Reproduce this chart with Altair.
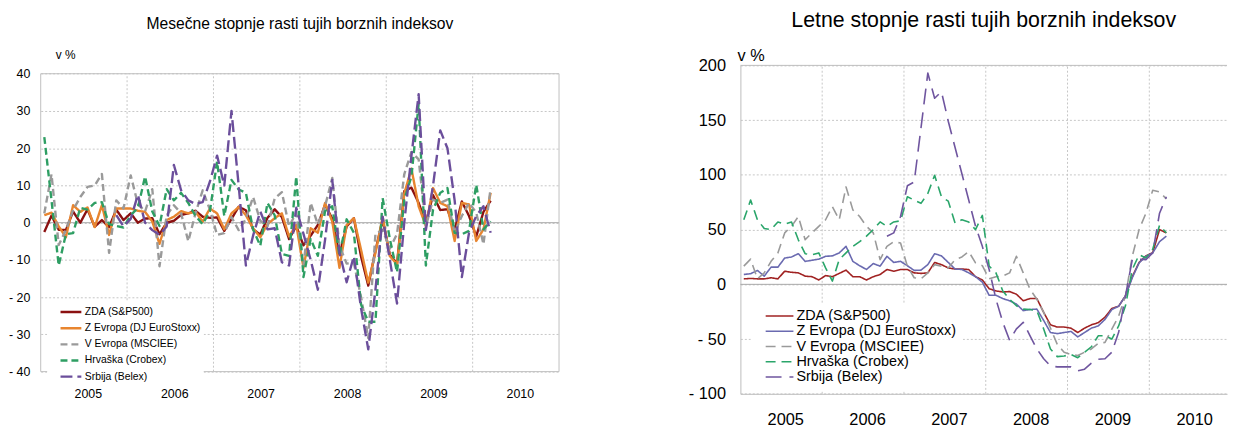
import altair as alt
import pandas as pd

SERIES = ["ZDA (S&P500)", "Z Evropa (DJ EuroStoxx)", "V Evropa (MSCIEE)",
          "Hrvaška (Crobex)", "Srbija (Belex)"]

# monthly observations Jan 2005 .. Mar 2010
MONTHS = [f"{y}-{m:02d}" for y in range(2005, 2011) for m in range(1, 13)][:63]

# ---- monthly growth rates (left panel), in %
ZDA_M = [-2.5, 1.9, -1.9, -2.0, 3.0, 0.0, 3.6, -1.1, 0.7, -1.2, 3.5, 0.7,
         2.5, 0.0, 1.1, 1.2, -3.1, 0.0, 0.5, 2.1, 2.5, 3.2, 1.6, 1.3,
         1.4, -2.2, 1.0, 4.3, 3.3, -1.8, -3.2, 1.3, 3.6, 1.5, -4.4, -0.9,
         -6.1, -3.5, -0.6, 4.8, 1.1, -8.6, -1.0, 1.2, -9.1, -16.9, -7.5, 0.8,
         -8.6, -11.0, 8.5, 9.4, 5.3, 0.0, 7.4, 3.4, 3.6, -2.0, 5.7, 1.8,
         -3.7, 2.9, 5.9]
EUR_M = [2.0, 2.7, -1.0, -3.9, 4.7, 2.9, 4.1, -1.2, 4.7, -3.3, 3.8, 3.8,
         3.8, 3.2, 2.9, 0.3, -5.7, 0.7, 1.6, 3.1, 2.5, 2.9, 0.3, 3.8,
         2.5, -1.8, 2.5, 4.2, 2.0, -1.5, -3.9, -0.4, 1.2, 2.5, -3.7, -0.6,
         -12.1, -1.5, -2.7, 5.3, 0.3, -12.1, -0.6, 1.2, -7.3, -16.1, -8.1, 1.5,
         -9.0, -11.2, 7.8, 14.5, 4.4, -0.9, 9.3, 5.3, 4.4, -4.9, 5.3, 4.9,
         -4.9, -1.8, 8.0]
VEU_M = [2.5, 13.0, -6.0, -2.0, 3.4, 6.9, 9.6, 10.0, 13.1, -8.1, 6.0, 3.8,
         12.7, 5.0, 3.0, 9.0, -11.7, 2.0, 4.7, 2.5, -5.0, 2.5, 8.7, 3.5,
         -3.3, -2.8, 1.5, -2.0, 1.0, 6.9, 0.5, -1.0, 6.5, 8.2, -1.0, 2.7,
         -11.5, 5.3, -0.5, 4.4, 12.0, -6.2, -11.0, -10.8, -20.0, -31.0, -3.0, -2.0,
         -7.0, -3.0, 13.0, 19.0, 17.0, -1.0, 6.2, 5.3, 6.2, -2.7, 1.8, 5.3,
         2.7, -5.8, 9.3]
HR_M = [23.0, 6.0, -11.5, -3.1, -2.8, 4.0, 3.5, 5.3, 5.5, -0.4, -0.9, -1.3,
        2.0, 4.0, 12.4, 3.0, -0.9, 9.0, 6.0, 8.0, 5.3, 1.8, -0.4, 3.0,
        16.4, 1.8, 11.5, 8.9, 8.0, -1.8, -6.2, 5.3, 2.0, -8.4, -8.9, 12.4,
        -14.6, -4.4, -8.9, 3.1, 4.4, -8.9, 0.9, -2.7, -22.0, -26.6, -26.6, 6.6,
        -4.4, -13.3, 6.2, 12.4, 32.0, -11.5, 3.5, 8.0, 9.3, -2.7, -3.1, -2.2,
        10.2, -1.8, 0.4]
SR_M = [None] * 10 + [2.0, -1.0,
        1.0, 7.5, 0.0, -2.0, -3.3, -1.0, 15.5, 8.7, 6.0, 5.0, 5.5, 11.0,
        18.0, 10.0, 30.0, 10.0, -11.5, -3.5, 3.0, -1.8, -1.5, -10.6, -11.5, 4.0,
        -3.0, -10.0, -18.0, -4.6, 11.5, -8.0, -16.0, -9.0, -23.0, -34.0, -18.0, 1.6,
        -10.0, -21.7, 0.0, 18.0, 34.5, -2.0, 10.0, 24.8, 20.0, 6.0, -14.6, -2.7,
        1.8, 4.4, -2.7]

# ---- annual growth rates (right panel), in %
ZDA_Y = [5.0, 5.4, 5.0, 5.0, 6.0, 5.0, 12.0, 11.0, 10.5, 7.5, 7.0, 4.0,
         8.0, 7.0, 10.0, 13.0, 7.0, 7.0, 4.0, 7.0, 9.0, 13.5, 12.0, 13.5,
         13.5, 10.5, 10.0, 10.5, 20.0, 18.0, 15.0, 14.0, 14.0, 13.5, 7.0, 4.0,
         -4.0, -6.0, -7.0, -6.6, -9.0, -15.0, -13.0, -13.0, -25.6, -37.0, -39.0, -39.0,
         -40.0, -44.0, -40.0, -37.0, -35.0, -30.0, -22.0, -20.0, -10.5, 7.0, 20.0, 26.0,
         29.0, 50.0, 47.0]
EUR_Y = [9.0, 9.7, 12.7, 7.5, 15.7, 15.7, 24.0, 25.0, 28.0, 21.0, 22.0, 23.0,
         25.6, 26.0, 28.7, 34.7, 21.0, 17.0, 13.6, 19.0, 16.6, 25.6, 20.0, 21.0,
         17.0, 12.7, 13.0, 18.0, 28.0, 26.0, 20.0, 14.0, 13.6, 10.5, 7.0, 2.0,
         -10.0, -10.0, -13.0, -15.0, -18.0, -24.0, -23.0, -22.6, -33.0, -44.0, -45.0, -44.0,
         -43.0, -48.0, -44.0, -40.0, -38.0, -32.0, -23.0, -20.0, -10.5, 6.0, 19.6, 25.6,
         28.7, 39.0, 44.0]
VEU_Y = [16.6, 23.0, 5.0, 10.5, 21.0, 28.7, 47.0, 53.0, 62.0, 40.7, 47.0, 53.0,
         59.0, 71.0, 59.0, 89.0, 68.0, 62.0, 53.0, 47.0, 22.6, 34.7, 39.0, 37.7,
         16.6, 6.0, 5.0, 10.5, 18.0, 16.6, 15.0, 22.6, 25.0, 30.0, 19.6, 17.0,
         5.0, 7.0, 7.5, 10.5, 25.6, 10.5, -4.5, -13.6, -25.6, -40.0, -55.0, -62.0,
         -64.0, -65.0, -62.0, -59.0, -54.0, -53.0, -41.0, -29.0, -10.6, 25.6, 50.0, 65.0,
         86.0, 84.5, 78.0]
HR_Y = [59.0, 77.0, 59.0, 51.0, 50.0, 57.0, 55.0, 57.0, 40.7, 28.0, 27.0, 28.7,
        15.0, 3.0, 22.6, 28.7, 34.7, 39.0, 44.0, 50.0, 57.0, 53.0, 57.0, 58.0,
        80.0, 77.0, 74.0, 83.0, 99.6, 80.0, 76.0, 56.0, 59.0, 57.0, 50.0, 63.0,
        16.6, 10.5, -6.0, -13.6, -19.6, -22.6, -23.0, -24.0, -40.7, -59.0, -66.0, -65.5,
        -64.0, -67.0, -62.0, -57.0, -47.0, -47.0, -50.0, -38.0, -19.6, 13.6, 27.0, 24.0,
        32.0, 54.0, 47.0]
SR_Y = [None] * 21 + [44.0, 47.0, 62.0,
        90.0, 93.5, 143.0, 193.0, 170.0, 176.0, 149.0, 125.0, 101.0, 77.0, 53.0, 34.7,
        13.6, -13.6, -34.7, -51.0, -40.7, -34.7, -47.0, -59.0, -68.0, -74.5, -75.4, -75.4,
        -75.4, -79.0, -77.5, -72.0, -68.5, -68.0, -62.0, -43.8, -10.6, 22.6, 23.0, 22.6,
        28.7, 65.0, 80.0]

YEAR_LABELS = [2005, 2006, 2007, 2008, 2009, 2010]
YEAR_BOUNDS = [2006, 2007, 2008, 2009, 2010]
L_TICKS = [-40, -30, -20, -10, 0, 10, 20, 30, 40]
R_TICKS = [-100, -50, 0, 50, 100, 150, 200]

FONT = "Liberation Sans, Arial, sans-serif"
GRID = "#c6c6c6"


def month_pos(m):
    y, mm = m.split("-")
    return int(y) + (int(mm) - 0.5) / 12


def long_df(cols):
    rows = []
    for s, vals in zip(SERIES, cols):
        for m, v in zip(MONTHS, vals):
            if v is None:
                continue
            rows.append({"t": month_pos(m), "v": v, "s": s})
    return pd.DataFrame(rows)


NEG_LABEL = "datum.value < 0 ? '- ' + abs(datum.value) : '' + datum.value"


def panel(df, xdom, ydom, width, height, colors, dashes, widths, fs_axis,
          fs_legend, ytitle_fs, ytitle_xy, ylabpad, xlabpad, ticks, legend_xy,
          legend_pad, sym_off, sym_size, clip_h, row_pad, title, title_fs, title_off,
          frame, ylo, yhi):
    xs = alt.Scale(domain=xdom, nice=False, zero=False)
    ys = alt.Scale(domain=ydom, nice=False, zero=False)
    xaxis = alt.Axis(values=[y + 0.5 for y in YEAR_LABELS],
                     labelExpr="'' + floor(datum.value)",
                     grid=False, ticks=False, tickSize=0,
                     domain=not frame, domainColor="#bdbdbd",
                     labelPadding=xlabpad, labelOffset=4, labelFont=FONT,
                     labelFontSize=fs_axis, labelColor="#000",
                     title=None)
    yaxis = alt.Axis(values=ticks, labelExpr=NEG_LABEL,
                     grid=True, gridDash=[2, 2], gridColor=GRID,
                     domain=not frame, domainColor="#bdbdbd",
                     ticks=False, tickSize=0, labelPadding=ylabpad,
                     labelFont=FONT, labelFontSize=fs_axis,
                     labelColor="#000", title="v %", titleAngle=0,
                     titleAlign="left", titleBaseline="middle",
                     titleX=ytitle_xy[0], titleY=ytitle_xy[1],
                     titleFont=FONT, titleFontSize=ytitle_fs,
                     titleFontWeight="normal", titleColor="#000")
    leg = alt.Legend(orient="none", legendX=legend_xy[0], legendY=legend_xy[1],
                     title=None, symbolType="stroke", symbolSize=sym_size,
                     labelFont=FONT, labelFontSize=fs_legend, labelColor="#000",
                     labelOffset=2, rowPadding=row_pad, padding=legend_pad,
                     clipHeight=clip_h,
                     fillColor="white", symbolOffset=sym_off, labelLimit=400)
    lines = alt.Chart(df).mark_line(strokeJoin="round").encode(
        x=alt.X("t:Q", scale=xs, axis=xaxis),
        y=alt.Y("v:Q", scale=ys, axis=yaxis),
        color=alt.Color("s:N", scale=alt.Scale(domain=SERIES, range=colors), legend=leg),
        strokeDash=alt.StrokeDash("s:N", scale=alt.Scale(domain=SERIES, range=dashes), legend=leg),
        strokeWidth=alt.StrokeWidth("s:N", scale=alt.Scale(domain=SERIES, range=widths), legend=leg),
        order=alt.Order("o:Q"),
    )
    vgrid = alt.Chart(pd.DataFrame({"t": YEAR_BOUNDS, "v": ylo, "v2": yhi})).mark_rule(
        stroke=GRID, strokeDash=[2, 2], strokeWidth=1).encode(
        x=alt.X("t:Q", scale=xs, axis=xaxis),
        y=alt.Y("v:Q", scale=ys, axis=yaxis), y2="v2:Q")
    zero = alt.Chart(pd.DataFrame({"v": [0]})).mark_rule(stroke="#a8a8a8", strokeWidth=1).encode(
        y=alt.Y("v:Q", scale=ys, axis=yaxis))
    layers = [vgrid, zero]
    if frame:
        fr = alt.Chart(pd.DataFrame({"t": [xdom[0]], "t2": [xdom[1]], "v": [ylo], "v2": [yhi]})).mark_rect(
            fillOpacity=0, stroke="#bfbfbf", strokeWidth=1).encode(
            x=alt.X("t:Q", scale=xs, axis=xaxis), x2="t2:Q",
            y=alt.Y("v:Q", scale=ys, axis=yaxis), y2="v2:Q")
        layers.append(fr)
    else:
        top = alt.Chart(pd.DataFrame({"v": [yhi]})).mark_rule(stroke="#bdbdbd", strokeWidth=1).encode(
            y=alt.Y("v:Q", scale=ys, axis=yaxis))
        layers.append(top)
    layers.append(lines)
    return alt.layer(*layers).properties(
        width=width, height=height,
        title=alt.TitleParams(title, font=FONT, fontSize=title_fs, fontWeight="normal",
                              color="#000", anchor="middle", offset=title_off))


left_df = long_df([ZDA_M, EUR_M, VEU_M, HR_M, SR_M])
left_df["o"] = range(len(left_df))
right_df = long_df([ZDA_Y, EUR_Y, VEU_Y, HR_Y, SR_Y])
right_df["o"] = range(len(right_df))

left = panel(left_df, [2005, 2011], [-40, 42.24], 523, 309,
             ["#8b1010", "#e8852f", "#9a9a9a", "#2e9e63", "#6b4e9b"],
             [[1, 0], [1, 0], [7, 4], [7, 4], [12, 5]],
             [2.4, 2.4, 1.1, 1.1, 2.3],
             12.5, 10.5, 12, (14.7, -11.3), 11, 15.7, L_TICKS,
             (6.5, 238.0), 3, 9, 441, 15.75, 0.3,
             "Mesečne stopnje rasti tujih borznih indeksov", 15.8, 15.5, True, -40, 40)

right = panel(right_df, [2005, 2010.95], [-100, 200], 491, 331.4,
              ["#a02222", "#6a6ab0", "#9a9a9a", "#2aa56a", "#6f559f"],
              [[1, 0], [1, 0], [10, 6], [10, 6], [16, 8]],
              [1.6, 1.6, 1.4, 1.5, 3.0],
              16.5, 14.5, 16.4, (-3.3, -10.3), 15, 17.5, R_TICKS,
              (10.5, 239.8), 6, 8, 784, 14.2, -0.6,
              "Letne stopnje rasti tujih borznih indeksov", 21.5, 15.5, False, -100, 200)

chart = alt.hconcat(left, right, spacing=129).properties(
    padding={"left": 0, "top": 0, "right": 0, "bottom": 0}
).configure_view(stroke=None).resolve_scale(color="independent", strokeDash="independent",
                                            strokeWidth="independent")

chart.save("out.html", embed_options={"renderer": "svg", "actions": False})
